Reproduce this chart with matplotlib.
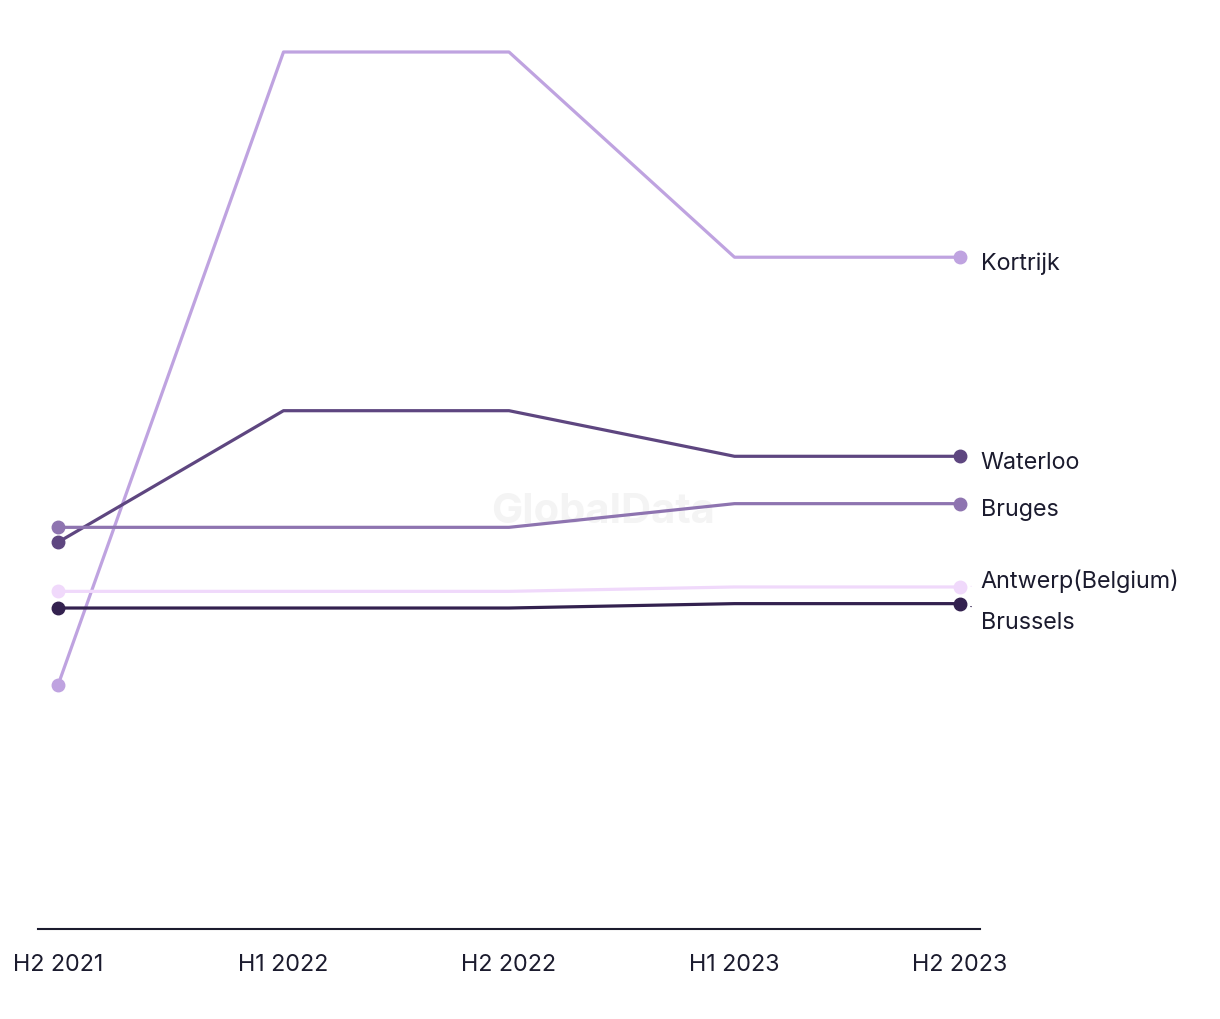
import matplotlib
matplotlib.use("Agg")
import matplotlib.pyplot as plt

# half-year periods on the x axis
periods = ["H2 2021", "H1 2022", "H2 2022", "H1 2023", "H2 2023"]

# series values (arbitrary scale)
kortrijk = [27.8, 100.0, 100.0, 76.6, 76.6]
waterloo = [44.1, 59.1, 59.1, 53.9, 53.9]
bruges = [45.8, 45.8, 45.8, 48.5, 48.5]
antwerp = [38.5, 38.5, 38.5, 39.0, 39.0]
brussels = [36.6, 36.6, 36.6, 37.1, 37.1]

names = ["Kortrijk", "Waterloo", "Bruges", "Antwerp(Belgium)", "Brussels"]
series = [kortrijk, waterloo, bruges, antwerp, brussels]
colors = ["#bfa3e0", "#5e4680", "#8e74b0", "#f0d9fb", "#33214f"]
# vertical nudge of end labels in points (to avoid overlap)
nudges = [-4, -4, -4, 5, -13]

text_color = "#1b1b2e"
plt.rcParams["font.family"] = ["Inter", "DejaVu Sans"]
fs = 16.8

fig = plt.figure(figsize=(12.2, 10.2), dpi=100)
ax = fig.add_axes([38 / 1220, 90 / 1020, (980 - 38) / 1220, (930 - 40) / 1020])

x = list(range(len(periods)))
for name, vals, c, dy in zip(names, series, colors, nudges):
    ax.plot(x, vals, color=c, lw=2.3, solid_capstyle="round", zorder=3)
    ax.plot([x[0], x[-1]], [vals[0], vals[-1]], "o", color=c, ms=9, zorder=4)
    if abs(dy) > 4:
        ax.annotate(name, xy=(x[-1], vals[-1]), xytext=(15, dy),
                    textcoords="offset points", va="center", ha="left",
                    fontsize=fs, color=text_color,
                    arrowprops=dict(arrowstyle="-", color=c, lw=0.8,
                                    linestyle=(0, (2, 2)),
                                    shrinkA=5, shrinkB=8))
    else:
        ax.annotate(name, xy=(x[-1], vals[-1]), xytext=(15, dy),
                    textcoords="offset points", va="center", ha="left",
                    fontsize=fs, color=text_color)

# watermark
ax.text(0.6, 0.47, "GlobalData", transform=ax.transAxes, ha="center",
        va="center", fontsize=30, fontweight="bold", color="#f4f4f4", zorder=1)

ax.set_xlim(-20 / 225.5, 4 + 20 / 225.5)
ax.set_ylim(0, (930 - 40) / 8.77)
ax.set_xticks(x)
ax.set_xticklabels(periods, fontsize=fs, color=text_color)
ax.tick_params(axis="x", length=0, pad=17)
ax.set_yticks([])
for s in ["top", "right", "left"]:
    ax.spines[s].set_visible(False)
ax.spines["bottom"].set_color(text_color)
ax.spines["bottom"].set_linewidth(1.5)

fig.savefig("out.png", dpi=100)
